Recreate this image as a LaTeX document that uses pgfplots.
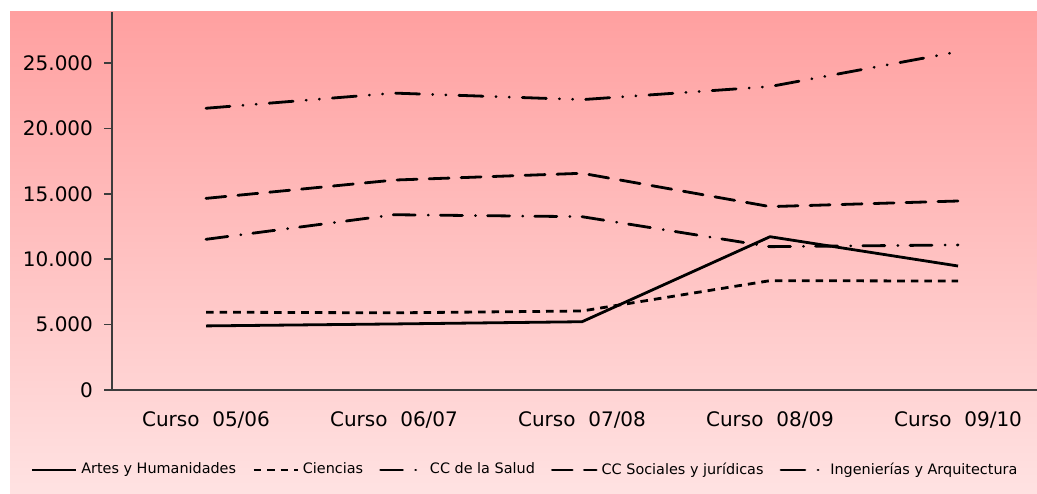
\documentclass[border=0pt]{standalone}
\usepackage{pgfplots}
\pgfplotsset{compat=1.18}
\usepackage{fontspec}
\setmainfont{DejaVu Sans}
\definecolor{bgtop}{RGB}{255,160,160}
\definecolor{bgbot}{RGB}{255,226,226}
\definecolor{axisgray}{RGB}{60,60,60}
\begin{document}
\begin{tikzpicture}
\shade[top color=bgtop, bottom color=bgbot] (5pt,0pt) rectangle (518.5pt,240.5pt);
\begin{axis}[
    at={(56pt,51.5pt)}, anchor=south west,
    scale only axis, width=462.5pt, height=189pt,
    axis x line*=bottom, axis y line*=left,
    axis line style={axisgray, line width=0.75pt},
    xmin=-0.5, xmax=4.42, ymin=0, ymax=28900,
    xtick={0,1,2,3,4},
    xticklabels={Curso\ \ 05/06, Curso\ \ 06/07, Curso\ \ 07/08, Curso\ \ 08/09, Curso\ \ 09/10},
    x tick style={draw=none},
    xticklabel style={yshift=-3.5pt, font=\fontsize{10}{12}\selectfont},
    ytick={0,5000,10000,15000,20000,25000},
    y tick style={axisgray, line width=0.75pt},
    tick align=outside, major tick length=4pt,
    yticklabel style={font=\fontsize{10}{12}\selectfont, xshift=-2pt},
    /pgf/number format/.cd, 1000 sep={.}, assume math mode=true,
    /pgfplots/.cd,
    scaled y ticks=false,
    clip=false,
    legend columns=5,
    legend style={at={(axis description cs:-0.0886,-0.2116)}, anchor=west,
        draw=none, fill=none, font=\fontsize{7.2}{9}\selectfont,
        /tikz/every even column/.append style={column sep=6pt},
        inner sep=0pt},
    legend image code/.code={\draw[#1] (0pt,0pt) -- (22pt,0pt);},
    every axis plot/.append style={black, line width=1.4pt},
]
\addplot[solid] coordinates {(0,4900) (1,5050) (2,5220) (3,11720) (4,9480)};
\addlegendentry{Artes y Humanidades}
\addplot[dash pattern=on 3.8pt off 3pt] coordinates {(0,5950) (1,5900) (2,6040) (3,8360) (4,8330)};
\addlegendentry{Ciencias}
\addplot[line cap=round, dash pattern=on 11pt off 6.5pt on 0.1pt off 6pt] coordinates {(0,11520) (1,13400) (2,13250) (3,10960) (4,11090)};
\addlegendentry{CC de la Salud}
\addplot[line cap=round, dash pattern=on 10pt off 6pt] coordinates {(0,14650) (1,16050) (2,16570) (3,14020) (4,14450)};
\addlegendentry{CC Sociales y jurídicas}
\addplot[line cap=round, dash pattern=on 12pt off 6.5pt on 0.1pt off 6.5pt on 0.1pt off 6.5pt] coordinates {(0,21540) (1,22700) (2,22200) (3,23200) (4,25860)};
\addlegendentry{Ingenierías y Arquitectura}
\end{axis}
\pgfresetboundingbox
\useasboundingbox (0pt,0pt) rectangle (518.5pt,246.5pt);
\end{tikzpicture}
\end{document}
